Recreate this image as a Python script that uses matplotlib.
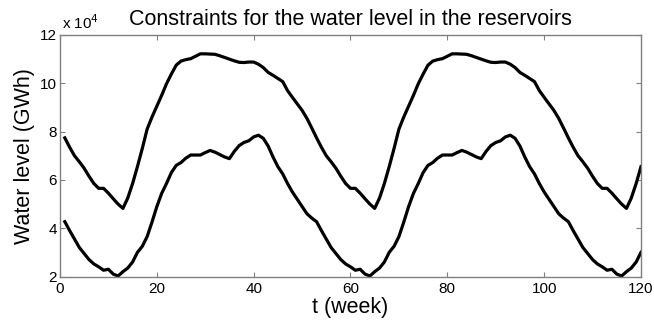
import numpy as np
import matplotlib.pyplot as plt

plt.rcParams['font.family'] = ['Liberation Sans', 'DejaVu Sans']

# weeks 1..120, levels in units of 10^4 GWh
weeks = np.arange(1, 121)

upper = [
    7.74, 7.35, 7.00, 6.75, 6.48, 6.15, 5.85, 5.65, 5.65, 5.45, 5.22, 5.00, 4.82,
    5.25, 5.85, 6.55, 7.30, 8.10, 8.60, 9.05, 9.50, 9.98, 10.38, 10.75, 10.92, 10.98,
    11.02, 11.12, 11.22, 11.22, 11.21, 11.20, 11.14, 11.07, 11.00, 10.93, 10.87, 10.86, 10.88,
    10.88, 10.79, 10.65, 10.45, 10.33, 10.20, 10.07, 9.70, 9.42, 9.15, 8.88, 8.55, 8.15,
    7.74, 7.35, 7.00, 6.75, 6.48, 6.15, 5.85, 5.65, 5.65, 5.45, 5.22, 5.00, 4.82,
    5.25, 5.85, 6.55, 7.30, 8.10, 8.60, 9.05, 9.50, 9.98, 10.38, 10.75, 10.92, 10.98,
    11.02, 11.12, 11.22, 11.22, 11.21, 11.20, 11.14, 11.07, 11.00, 10.93, 10.87, 10.86, 10.88,
    10.88, 10.79, 10.65, 10.45, 10.33, 10.20, 10.07, 9.70, 9.42, 9.15, 8.88, 8.55, 8.15,
    7.74, 7.35, 7.00, 6.75, 6.48, 6.15, 5.85, 5.65, 5.65, 5.45, 5.22, 5.00, 4.82,
    5.25, 5.85, 6.55,
]

lower = [
    4.27, 3.90, 3.55, 3.20, 2.95, 2.70, 2.52, 2.40, 2.26, 2.30, 2.10, 2.02, 2.20,
    2.35, 2.60, 3.00, 3.25, 3.65, 4.25, 4.89, 5.44, 5.85, 6.30, 6.60, 6.72, 6.90,
    7.03, 7.03, 7.03, 7.13, 7.22, 7.15, 7.05, 6.95, 6.88, 7.18, 7.42, 7.55, 7.62,
    7.78, 7.85, 7.72, 7.40, 6.95, 6.55, 6.25, 5.85, 5.50, 5.20, 4.90, 4.60, 4.42,
    4.27, 3.90, 3.55, 3.20, 2.95, 2.70, 2.52, 2.40, 2.26, 2.30, 2.10, 2.02, 2.20,
    2.35, 2.60, 3.00, 3.25, 3.65, 4.25, 4.89, 5.44, 5.85, 6.30, 6.60, 6.72, 6.90,
    7.03, 7.03, 7.03, 7.13, 7.22, 7.15, 7.05, 6.95, 6.88, 7.18, 7.42, 7.55, 7.62,
    7.78, 7.85, 7.72, 7.40, 6.95, 6.55, 6.25, 5.85, 5.50, 5.20, 4.90, 4.60, 4.42,
    4.27, 3.90, 3.55, 3.20, 2.95, 2.70, 2.52, 2.40, 2.26, 2.30, 2.10, 2.02, 2.20,
    2.35, 2.60, 3.00,
]

x_ticks = [0, 20, 40, 60, 80, 100, 120]
y_ticks = [2, 4, 6, 8, 10, 12]

fig = plt.figure(figsize=(6.54, 3.24), dpi=100)
ax = fig.add_axes([0.0917, 0.1466, 0.8884, 0.7454])

ax.plot(weeks, upper, color='k', lw=2.3)
ax.plot(weeks, lower, color='k', lw=2.3)

ax.set_xlim(0, 120)
ax.set_ylim(2, 12)
ax.set_xticks(x_ticks)
ax.set_yticks(y_ticks)

axcol = '#808080'
for s in ax.spines.values():
    s.set_color(axcol)
    s.set_linewidth(1.0)
ax.tick_params(direction='in', length=3.6, width=0.8, color=axcol,
               top=True, right=True, labelsize=11, labelcolor='k')
ax.tick_params(axis='x', pad=4)
ax.tick_params(axis='y', pad=2)

ax.set_title('Constraints for the water level in the reservoirs', fontsize=15.5, pad=7)
ax.set_xlabel('t (week)', fontsize=15.5, labelpad=1)
ax.set_ylabel('Water level (GWh)', fontsize=15.5, labelpad=4)
ax.text(0.004, 1.012, r'x 10$^4$', transform=ax.transAxes, fontsize=11,
        ha='left', va='bottom')

fig.savefig('out.png', dpi=100)
